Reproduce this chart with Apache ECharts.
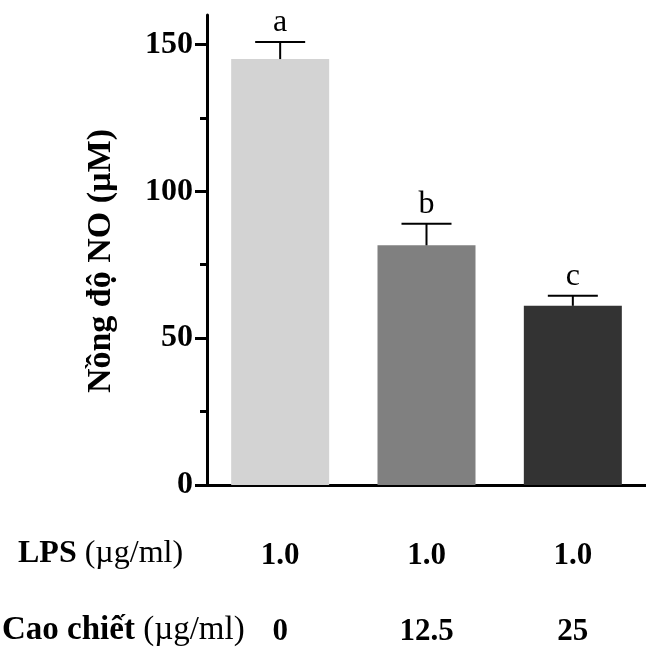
<!DOCTYPE html>
<html>
<head>
<meta charset="utf-8">
<script src="https://cdn.jsdelivr.net/npm/echarts@6/dist/echarts.min.js"></script>
<style>html,body{margin:0;padding:0;background:#fff;}#c{width:646px;height:648px;}</style>
</head>
<body>
<div id="c"></div>
<script>
// Data
const lpsDose = ['1.0', '1.0', '1.0'];
const extractDose = ['0', '12.5', '25'];
const noMean = [145, 81.6, 61.0];
const noErr = [5.8, 7.3, 3.4];
const sigLetters = ['a', 'b', 'c'];
const barColors = ['#d3d3d3', '#808080', '#333333'];
const yMajorTicks = [0, 50, 100, 150];
const yMinorTicks = [25, 75, 125];
const yMax = 160;

const serif = '"Liberation Serif", "Times New Roman", serif';
const chart = echarts.init(document.getElementById('c'));

chart.setOption({
  animation: false,
  grid: { left: 207, right: -4, top: 15, bottom: 163 },
  xAxis: {
    type: 'category',
    data: extractDose,
    axisLine: { lineStyle: { color: '#000', width: 3 } },
    axisTick: { show: false },
    axisLabel: {
      margin: 33,
      formatter: (v, i) => '{v|' + lpsDose[i] + '}\n{v|' + extractDose[i] + '}',
      rich: { v: { fontFamily: serif, fontWeight: 'bold', fontSize: 31, lineHeight: 76, color: '#000' } }
    }
  },
  yAxis: [{
    type: 'value', min: 0, max: yMax, interval: 50,
    axisLine: { show: true, lineStyle: { color: '#000', width: 3 } },
    axisTick: { show: true, length: 12, customValues: yMajorTicks, lineStyle: { color: '#000', width: 3 } },
    axisLabel: { customValues: yMajorTicks, margin: 14, color: '#000', fontFamily: serif, fontWeight: 'bold', fontSize: 32 },
    splitLine: { show: false }
  }, {
    type: 'value', min: 0, max: yMax, interval: 25, position: 'left',
    axisLine: { show: false },
    axisTick: { show: true, length: 7, customValues: yMinorTicks, lineStyle: { color: '#000', width: 3 } },
    axisLabel: { show: false },
    splitLine: { show: false }
  }],
  graphic: [
    { type: 'text', left: 18, top: 556 - 18, style: {
      text: '{b|LPS }{n|(µg/ml)}',
      rich: { b: { fontFamily: serif, fontWeight: 'bold', fontSize: 32, fill: '#000' },
              n: { fontFamily: serif, fontSize: 32, fill: '#000' } } } },
    { type: 'text', left: 2, top: 632 - 18, style: {
      text: '{b|Cao chiết }{n|(µg/ml)}',
      rich: { b: { fontFamily: serif, fontWeight: 'bold', fontSize: 33, fill: '#000' },
              n: { fontFamily: serif, fontSize: 33, fill: '#000' } } } },
    { type: 'text', x: 101, y: 261, rotation: Math.PI / 2, style: {
      text: 'Nồng độ NO (µM)', fontFamily: serif, fontWeight: 'bold', fontSize: 34,
      fill: '#000', align: 'center', verticalAlign: 'middle' } }
  ],
  series: [{
    type: 'bar',
    barWidth: 98,
    data: noMean.map((v, i) => ({ value: v, itemStyle: { color: barColors[i] } }))
  }, {
    type: 'custom',
    data: noMean.map((v, i) => [i, v, noErr[i]]),
    renderItem: (params, api) => {
      const i = api.value(0), m = api.value(1), e = api.value(2);
      const base = api.coord([i, m]);
      const top = api.coord([i, m + e]);
      const hw = 25;
      return {
        type: 'group',
        children: [
          { type: 'line', shape: { x1: base[0], y1: base[1], x2: top[0], y2: top[1] }, style: { stroke: '#000', lineWidth: 2 } },
          { type: 'line', shape: { x1: top[0] - hw, y1: top[1], x2: top[0] + hw, y2: top[1] }, style: { stroke: '#000', lineWidth: 2 } },
          { type: 'text', x: top[0], y: top[1] - 19, style: { text: sigLetters[params.dataIndex], fontFamily: serif, fontSize: 32, fill: '#000', align: 'center', verticalAlign: 'middle' } }
        ]
      };
    },
    z: 5
  }]
});
</script>
</body>
</html>
